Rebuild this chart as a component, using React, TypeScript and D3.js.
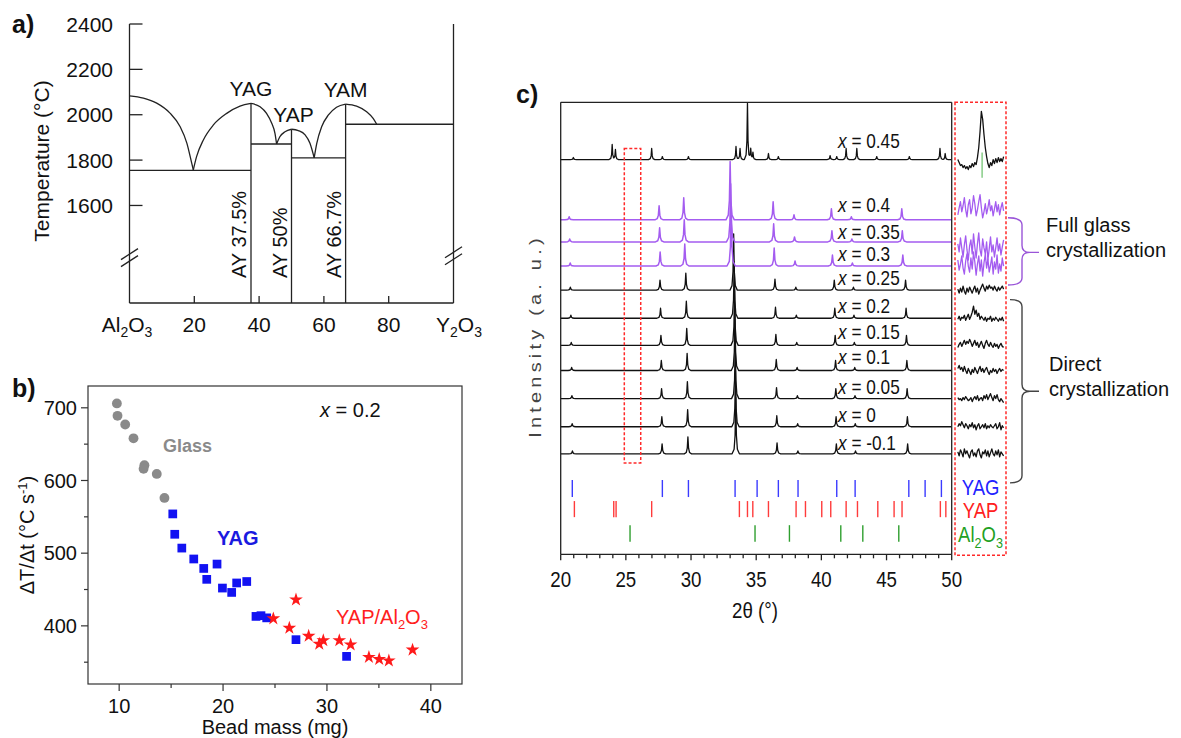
import React from 'react';
import * as d3 from 'd3';

const FONT = '"Liberation Sans", Arial, Helvetica, sans-serif';

// ---------------- Panel a: Al2O3 – Y2O3 phase diagram ----------------
const aTempTicks = [1600, 1800, 2000, 2200, 2400];
const aCompTicks = [20, 40, 60, 80];
const aLiqAl2O3 = [[0, 2083], [4.3, 2073], [8.4, 2051], [12.5, 2007], [15.6, 1948], [17.7, 1875], [19.2, 1787], [19.7, 1757]];
const aLiqYagLeft = [[19.7, 1757], [20.7, 1815], [22.8, 1889], [25.9, 1955], [30.0, 2006], [34.1, 2038], [37.5, 2050]];
const aLiqYagRight = [[37.5, 2050], [40.3, 2035], [42.3, 2006], [43.9, 1962], [44.9, 1918], [45.4, 1871]];
const aLiqYapLeft = [[45.4, 1871], [46.4, 1903], [48.0, 1925], [50, 1936]];
const aLiqYapRight = [[50, 1936], [52.1, 1930], [54.2, 1911], [55.7, 1874], [57.0, 1810]];
const aLiqYamLeft = [[57.0, 1810], [57.8, 1874], [59.3, 1947], [61.4, 1999], [63.9, 2033], [66.7, 2047]];
const aLiqYamRight = [[66.7, 2047], [70.1, 2038], [73.2, 2013], [75.2, 1984], [76.3, 1958]];
const aSolidusFrom = [0, 37.5, 50, 66.7];
const aSolidusTo = [37.5, 50, 66.7, 100];
const aSolidusT = [1755, 1871, 1810, 1958];
const aCompoundNames = ['YAG', 'YAP', 'YAM'];
const aCompoundComp = [37.5, 50, 66.7];
const aCompoundTm = [2050, 1936, 2047];
const aCompoundLabels = ['AY 37.5%', 'AY 50%', 'AY 66.7%'];

// ---------------- Panel b: cooling rate vs bead mass ----------------
const bXTicks = [10, 20, 30, 40];
const bXMinor = [15, 25, 35];
const bYTicks = [400, 500, 600, 700];
const bYMinor = [350, 450, 550, 650];
const glassMass = [9.78, 9.84, 10.58, 11.38, 12.43, 12.35, 13.62, 14.36];
const glassRate = [706, 689, 677, 658, 621, 616, 609, 576];
const yagMass = [15.16, 15.35, 16.03, 17.18, 18.14, 18.43, 19.42, 19.94, 20.83, 21.31, 22.28, 23.17, 23.65, 24.2, 27.02, 31.89];
const yagRate = [554, 526, 507, 492, 479, 464, 485, 452, 446, 459, 461, 413, 414, 411, 381, 358];
const yapMass = [24.84, 27.02, 26.38, 28.24, 29.26, 29.65, 31.19, 32.28, 34.04, 35.03, 35.96, 38.24];
const yapRate = [410, 436, 397, 386, 375, 380, 380, 374, 357, 354, 352, 367];

// ---------------- Panel c: XRD patterns ----------------
const cXTicks = [20, 25, 30, 35, 40, 45, 50];
const cXMinor = d3.range(21, 50).filter((v) => v % 5 !== 0);
const cCompositions = ['-0.1', '0', '0.05', '0.1', '0.15', '0.2', '0.25', '0.3', '0.35', '0.4', '0.45'];
const cOffsets = [100, 127, 155, 183, 208, 235, 263, 287, 311, 333, 393];
const cKind = ['direct', 'direct', 'direct', 'direct', 'direct', 'direct', 'direct', 'glass', 'glass', 'glass', 'mixed'];
const cShifts = [0, -0.02, -0.04, -0.06, -0.09, -0.12, -0.16, -0.22, -0.26, -0.3, 0];
const cLabelLift = [4, 5, 5, 6, 6, 5, 5, 5, 3, 8, 12];
// [2θ, intensity]
const directPeaks = [[20.9, 3], [27.78, 10], [29.76, 17], [33.43, 56], [36.6, 11], [38.2, 3], [41.15, 10], [42.62, 3], [46.62, 10]];
const glassPeaks = [[20.95, 3], [27.85, 14], [29.74, 22], [33.3, 58], [36.6, 18], [38.2, 5], [41.07, 11], [42.6, 3], [46.47, 11]];
const mixedPeaks = [[20.97, 2], [23.95, 15], [24.2, 10], [26.98, 11], [27.8, 3], [29.8, 3], [33.45, 13], [33.76, 11], [34.33, 56], [34.58, 11], [34.75, 7], [35.94, 6], [36.7, 3], [40.67, 4], [41.18, 3], [41.9, 11], [42.72, 11], [44.25, 3], [46.75, 3], [49.1, 11], [49.5, 6]];
const yagRefs = [20.89, 27.8, 29.8, 33.38, 35.07, 36.7, 38.21, 41.18, 42.59, 46.71, 47.96, 49.21];
const yapRefs = [21.05, 24.07, 24.25, 26.98, 33.71, 34.33, 34.74, 35.94, 38.06, 38.78, 40.03, 40.72, 41.9, 42.77, 44.33, 45.58, 46.19, 49.13, 49.55];
const al2o3Refs = [25.32, 34.91, 37.55, 41.49, 43.18, 45.94];
const refRowLow = [57, 37, 12.5];
const refRowHigh = [74, 53, 29];
const refColors = ['#3b3bff', '#ff3b3b', '#2f9f2f'];
const zoomWindow = [24.88, 26.14];
const zoomBoxLow = 91;
const zoomBoxHigh = 404;
const insetStart = 24.95;
const insetStep = 0.0323;
const insetAl2O3Peak = 25.55;
const insetNoise = [
  [2, -2, 4, 1, -3, 5, 0, 3, -1, -4, 2, 4, -2, 1, -3, 3, 5, -1, -4, 2, 0, 4, -2, 3, -3, 1, 5, 0, -2, 3, -1, 4, -3, 2, 0, -2],
  [0, 3, 1, 5, 2, -1, 3, 1, -2, 2, 0, 4, -1, 2, -3, 1, 3, -2, 0, 2, -1, 3, -2, 1, -1, 2, 0, -1, 1, 3, -2, 0, 4, -3, 1, -1],
  [1, -1, 0, -2, 1, -1, 2, 0, -2, -1, 1, -3, 0, 2, -1, 3, -2, 0, 1, -2, 3, 0, 4, -1, 2, 5, 1, -2, 3, 0, 4, -1, -3, 0, -2, -4],
  [2, 5, 1, 3, -1, 4, 0, -3, 2, -1, -4, 1, -2, 3, 0, -3, 1, 4, -1, 2, -2, 1, 3, -1, -4, 0, -2, 2, -1, 1, -3, 0, 2, -1, 1, 0],
  [-2, 1, 3, -1, 2, 5, 1, 4, 2, 6, 3, -1, 2, 5, 0, 3, -2, 1, 4, 0, -3, 2, 5, 1, -1, 3, 0, -2, 2, -1, 1, -3, 0, 2, -1, -2],
  [-1, 2, -2, 1, 0, 3, -2, 1, 4, -1, 2, 6, 12, 4, 8, 2, 5, -1, 2, 0, -2, 1, -3, 0, -1, 2, -3, 0, -2, 1, -1, -3, 0, -2, 1, -3],
  [1, -3, 2, -2, 4, -1, -4, 2, -2, 3, 0, -3, 1, 4, -2, 2, -4, 0, 3, 6, 2, -1, 4, 1, 5, 2, 3, 0, 4, 1, -1, 3, 0, 2, 4, 1],
  [6, -4, 2, 10, -2, -8, 5, 12, 0, -6, 8, -3, 14, 4, -9, 2, 10, -5, 6, -10, 3, 12, -2, 7, -6, 1, 9, -8, 4, -3, 11, -7, 2, -5, 8, 0],
  [-2, -10, 4, -6, -15, -3, 6, -8, -18, -4, 2, -12, 8, -5, -16, -2, 9, -8, -14, 3, -6, -12, 0, -18, -7, 5, -10, -3, -15, -6, 4, -9, -2, -13, -5, 2],
  [5, 12, 18, 8, 14, 22, 10, 3, 15, 20, 6, 12, 24, 16, 4, 10, 18, 25, 12, 2, 8, 16, 6, 12, 20, 9, 14, 4, 11, 18, 8, 15, 5, 12, 17, 9],
  [0, -3, -6, -5, -8, -6, -9, -7, -10, -6, -8, -4, -7, -3, -5, 2, 12, 28, 48, 40, 25, 12, 3, -4, -8, -3, -6, 0, -4, 1, -3, 2, -2, 1, -2, 3],
];

// ---------------- scales ----------------
const xA = d3.scaleLinear().domain([0, 100]).range([129.5, 453.5]);
const yA = d3.scaleLinear().domain([1170, 2400]).range([303, 24]);
const xB = d3.scaleLinear().domain([7, 43]).range([88, 462]);
const yB = d3.scaleLinear().domain([320, 730]).range([684, 386]);
const xC = d3.scaleLinear().domain([20, 50]).range([560.7, 951.7]);
const yC = d3.scaleLinear().domain([0, 450]).range([554.3, 102.3]);
const xI = d3.scaleLinear().domain(zoomWindow).range([955, 1006]);

const SHAPE_OFF = [-1, -0.45, -0.18, 0, 0.18, 0.45, 1];
const SHAPE_LVL = [0, 0.08, 0.33, 1, 0.33, 0.08, 0];
function peakShape(d: number, w: number) {
  const u = d / w;
  if (u <= -1 || u >= 1) return 0;
  for (let i = 0; i < SHAPE_OFF.length - 1; i++) {
    if (u >= SHAPE_OFF[i] && u <= SHAPE_OFF[i + 1]) {
      const t = (u - SHAPE_OFF[i]) / (SHAPE_OFF[i + 1] - SHAPE_OFF[i]);
      return SHAPE_LVL[i] + t * (SHAPE_LVL[i + 1] - SHAPE_LVL[i]);
    }
  }
  return 0;
}
function buildTrace(peaks: number[][], shift: number, w: number) {
  const xs: number[] = [20, 50];
  peaks.forEach(([p]) => SHAPE_OFF.forEach((o) => xs.push(p + shift + o * w)));
  const sorted = Array.from(new Set(xs)).filter((x) => x >= 20 && x <= 50).sort((a, b) => a - b);
  return sorted.map((x) => [x, d3.sum(peaks, ([p, h]) => h * peakShape(x - (p + shift), w))]);
}

const PURPLE = '#a45cf0';
const traceColor = (k: string) => (k === 'glass' ? PURPLE : '#111');

const CText = ({ x, y, sx = 0.82, anchor = 'start', size = 21, fill = '#111', children, weight = 'normal' }: any) => (
  <text transform={`translate(${x},${y}) scale(${sx},1)`} textAnchor={anchor} fontSize={size} fill={fill} fontFamily={FONT} fontWeight={weight}>
    {children}
  </text>
);

export default function App() {
  const lineA = d3.line<number[]>().x((d) => xA(d[0])).y((d) => yA(d[1])).curve(d3.curveMonotoneX);
  const liquidus = [aLiqAl2O3, aLiqYagLeft, aLiqYagRight, aLiqYapLeft, aLiqYapRight, aLiqYamLeft, aLiqYamRight];
  const stroke = '#222';

  const breakY = [yA(1370), yA(1378)];
  const breakAxes = [0, 100];

  const symCircle = d3.symbol().type(d3.symbolCircle).size(76)();
  const symSquare = d3.symbol().type(d3.symbolSquare).size(76)();
  const symStar = d3.symbol().type(d3.symbolStar).size(58)();

  const traces = cCompositions.map((c, i) => {
    const kind = cKind[i];
    const peaks = kind === 'direct' ? directPeaks : kind === 'glass' ? glassPeaks : mixedPeaks;
    const w = kind === 'glass' ? 0.32 : kind === 'mixed' ? 0.24 : 0.28;
    const pts = buildTrace(peaks, cShifts[i], w);
    const line = d3.line<number[]>().x((d) => xC(d[0])).y((d) => yC(cOffsets[i] + d[1]));
    return { c, i, kind, d: line(pts) as string };
  });

  const insetLines = insetNoise.map((arr, i) => {
    const line = d3.line<number>().x((_, j) => xI(insetStart + j * insetStep)).y((v) => yC(cOffsets[i] + v));
    return { i, kind: cKind[i], d: line(arr) as string };
  });

  const refs = [yagRefs, yapRefs, al2o3Refs];
  const insetX0 = xI.range()[0];
  const insetX1 = xI.range()[1];

  // brackets
  const braceX = 1022;
  const pTop = yC(cOffsets[9]) - 2;
  const pBot = yC(cOffsets[7]) + 19;
  const pMid = (pTop + pBot) / 2 + 1;
  const kTop = yC(cOffsets[6]) + 9.5;
  const kBot = yC(cOffsets[0]) + 29;
  const kMid = (kTop + kBot) / 2;
  const brace = (top: number, mid: number, bot: number, x0: number) =>
    `M${x0},${top} Q${braceX},${top} ${braceX},${top + 7} V${mid - 7} Q${braceX},${mid} ${braceX + 8},${mid} H${braceX + 17} M${braceX + 8},${mid} Q${braceX},${mid} ${braceX},${mid + 7} V${bot - 7} Q${braceX},${bot} ${x0},${bot}`;

  return (
    <svg width={1181} height={738} style={{ position: 'absolute', left: 0, top: 0, background: '#fff' }} fontFamily={FONT}>
      <rect x={0} y={0} width={1181} height={738} fill="#fff" />
      {/* ================= Panel a ================= */}
      <text x={12} y={33} fontSize={25} fontWeight="bold" fill="#111">a)</text>
      <g stroke={stroke} strokeWidth={1.3} fill="none">
        <line x1={xA(0)} x2={xA(0)} y1={yA(2400)} y2={yA(1170)} />
        <line x1={xA(100)} x2={xA(100)} y1={yA(2400)} y2={yA(1170)} />
        <line x1={xA(0)} x2={xA(100)} y1={yA(1170)} y2={yA(1170)} />
        {aTempTicks.map((t) => (
          <line key={t} x1={xA(0)} x2={xA(0) + 13} y1={yA(t)} y2={yA(t)} />
        ))}
        {aCompTicks.map((c) => (
          <line key={c} x1={xA(c)} x2={xA(c)} y1={yA(1170)} y2={yA(1170) - 7} />
        ))}
        {liquidus.map((pts, i) => (
          <path key={i} d={lineA(pts as number[][]) as string} />
        ))}
        {aSolidusT.map((t, i) => (
          <line key={i} x1={xA(aSolidusFrom[i])} x2={xA(aSolidusTo[i])} y1={yA(t)} y2={yA(t)} />
        ))}
        {aCompoundComp.map((c, i) => (
          <line key={i} x1={xA(c)} x2={xA(c)} y1={yA(aCompoundTm[i])} y2={yA(1170)} />
        ))}
        {breakAxes.map((c, k) => (
          <g key={k}>
            {[-3.5, 3.5].map((dy, j) => (
              <line key={j} x1={xA(c) - 8.5} x2={xA(c) + 8.5} y1={breakY[k] + dy + 5.5} y2={breakY[k] + dy - 5.5} />
            ))}
          </g>
        ))}
      </g>
      {aTempTicks.map((t) => (
        <text key={t} x={113} y={yA(t)} dy="0.36em" textAnchor="end" fontSize={21} fill="#111">{t}</text>
      ))}
      {aCompTicks.map((c) => (
        <text key={c} x={xA(c)} y={332} textAnchor="middle" fontSize={21} fill="#111">{c}</text>
      ))}
      <text x={127} y={332} textAnchor="middle" fontSize={21} fill="#111">
        Al<tspan fontSize={14} dy={5}>2</tspan><tspan dy={-5}>O</tspan><tspan fontSize={14} dy={5}>3</tspan>
      </text>
      <text x={459} y={332} textAnchor="middle" fontSize={21} fill="#111">
        Y<tspan fontSize={14} dy={5}>2</tspan><tspan dy={-5}>O</tspan><tspan fontSize={14} dy={5}>3</tspan>
      </text>
      <text transform="translate(49,161) rotate(-90)" textAnchor="middle" fontSize={21} fill="#111">Temperature (°C)</text>
      {aCompoundNames.map((n, i) => (
        <text key={n} x={xA(aCompoundComp[i]) + (i === 1 ? 2 : 0)} y={yA(aCompoundTm[i]) - 7} textAnchor="middle" fontSize={21} fill="#111">{n}</text>
      ))}
      {aCompoundLabels.map((l, i) => (
        <text key={l} transform={`translate(${xA(aCompoundComp[i]) - 5},278) rotate(-90)`} fontSize={20} fill="#111">{l}</text>
      ))}

      {/* ================= Panel b ================= */}
      <text x={12} y={397} fontSize={25} fontWeight="bold" fill="#111">b)</text>
      <g stroke="#333" strokeWidth={1.2} fill="none">
        <rect x={xB(7)} y={yB(730)} width={xB(43) - xB(7)} height={yB(320) - yB(730)} />
        {bXTicks.map((v) => <line key={v} x1={xB(v)} x2={xB(v)} y1={yB(320)} y2={yB(320) + 7} />)}
        {bXMinor.map((v) => <line key={v} x1={xB(v)} x2={xB(v)} y1={yB(320)} y2={yB(320) + 4} />)}
        {bYTicks.map((v) => <line key={v} x1={xB(7)} x2={xB(7) - 7} y1={yB(v)} y2={yB(v)} />)}
        {bYMinor.map((v) => <line key={v} x1={xB(7)} x2={xB(7) - 4} y1={yB(v)} y2={yB(v)} />)}
      </g>
      {bXTicks.map((v) => (
        <text key={v} x={xB(v)} y={713} textAnchor="middle" fontSize={20} fill="#111">{v}</text>
      ))}
      {bYTicks.map((v) => (
        <text key={v} x={77} y={yB(v)} dy="0.36em" textAnchor="end" fontSize={20} fill="#111">{v}</text>
      ))}
      <text x={xB(25)} y={734} textAnchor="middle" fontSize={20} fill="#111">Bead mass (mg)</text>
      <text transform="translate(34,535) rotate(-90)" textAnchor="middle" fontSize={20} fill="#111">
        ΔT/Δt (°C s<tspan fontSize={13} dy={-7}>-1</tspan><tspan dy={7}>)</tspan>
      </text>
      <text x={320} y={417} fontSize={20} fill="#111"><tspan fontStyle="italic">x</tspan> = 0.2</text>
      <text x={163} y={452} fontSize={18} fontWeight="bold" fill="#8a8a8a">Glass</text>
      <text x={217} y={545} fontSize={20} fontWeight="bold" fill="#1a1ae0">YAG</text>
      <text x={336} y={624} fontSize={20} fill="#ff2020">
        YAP/Al<tspan fontSize={13} dy={5}>2</tspan><tspan dy={-5}>O</tspan><tspan fontSize={13} dy={5}>3</tspan>
      </text>
      {glassMass.map((m, i) => (
        <path key={'g' + i} d={symCircle as string} transform={`translate(${xB(m)},${yB(glassRate[i])})`} fill="#8a8a8a" />
      ))}
      {yagMass.map((m, i) => (
        <path key={'y' + i} d={symSquare as string} transform={`translate(${xB(m)},${yB(yagRate[i])})`} fill="#1212f2" />
      ))}
      {yapMass.map((m, i) => (
        <path key={'p' + i} d={symStar as string} transform={`translate(${xB(m)},${yB(yapRate[i])})`} fill="#ff1a1a" />
      ))}

      {/* ================= Panel c ================= */}
      <text x={516} y={103} fontSize={25} fontWeight="bold" fill="#111">c)</text>
      <defs>
        <clipPath id="insetClip">
          <rect x={insetX0 + 1} y={yC(450)} width={insetX1 - insetX0 - 2} height={yC(0) - yC(450)} />
        </clipPath>
      </defs>
      {traces.map((t) => (
        <path key={t.c} d={t.d} fill="none" stroke={traceColor(t.kind)} strokeWidth={t.kind === 'glass' ? 1.5 : 1.3} strokeLinejoin="round" />
      ))}
      {refs.map((arr, r) => (
        <g key={r} stroke={refColors[r]} strokeWidth={1.4}>
          {arr.map((v, j) => (
            <line key={j} x1={xC(v)} x2={xC(v)} y1={yC(refRowLow[r])} y2={yC(refRowHigh[r])} />
          ))}
        </g>
      ))}
      <g clipPath="url(#insetClip)">
        {insetLines.map((l) => (
          <path key={l.i} d={l.d} fill="none" stroke={traceColor(l.kind)} strokeWidth={1.3} strokeLinejoin="round" />
        ))}
      </g>
      <line x1={xI(insetAl2O3Peak)} x2={xI(insetAl2O3Peak)} y1={yC(375)} y2={yC(400)} stroke="#8fd08f" strokeWidth={1.6} />
      <g stroke="#222" strokeWidth={1.3} fill="none">
        <line x1={xC(20)} x2={xC(20)} y1={yC(450)} y2={yC(0)} />
        <line x1={xC(50)} x2={xC(50)} y1={yC(450)} y2={yC(0)} />
        <line x1={xC(20)} x2={xC(50)} y1={yC(450)} y2={yC(450)} />
        <line x1={xC(20)} x2={xC(50)} y1={yC(0)} y2={yC(0)} />
        {cXTicks.map((v) => <line key={v} x1={xC(v)} x2={xC(v)} y1={yC(0)} y2={yC(0) + 6} />)}
        {cXMinor.map((v) => <line key={v} x1={xC(v)} x2={xC(v)} y1={yC(0)} y2={yC(0) + 4} />)}
      </g>
      <g stroke="#ff2a2a" strokeWidth={1.5} strokeDasharray="3,2" fill="none">
        <rect x={xC(zoomWindow[0])} y={yC(zoomBoxHigh)} width={xC(zoomWindow[1]) - xC(zoomWindow[0])} height={yC(zoomBoxLow) - yC(zoomBoxHigh)} />
        <rect x={insetX0} y={yC(450)} width={insetX1 - insetX0} height={yC(0) - yC(450) + 1} />
      </g>
      {cXTicks.map((v) => (
        <CText key={v} x={xC(v)} y={587} anchor="middle" size={22} sx={0.85}>{v}</CText>
      ))}
      <CText x={755} y={618} anchor="middle" size={22} sx={0.85}>2θ (°)</CText>
      <text transform="translate(541,336) rotate(-90) scale(1,0.82)" textAnchor="middle" fontSize={20} letterSpacing={4.2} fill="#444">Intensity (a. u.)</text>
      {traces.map((t) => (
        <CText key={t.c} x={838} y={yC(cOffsets[t.i]) - cLabelLift[t.i]} size={21} sx={0.82}>
          <tspan fontStyle="italic">x</tspan> = {t.c}
        </CText>
      ))}
      <CText x={xI(25.51)} y={495} anchor="middle" size={22} sx={0.84} fill="#2222ff">YAG</CText>
      <CText x={xI(25.51)} y={518} anchor="middle" size={22} sx={0.84} fill="#ff2020">YAP</CText>
      <CText x={xI(25.51)} y={542} anchor="middle" size={22} sx={0.84} fill="#22a022">
        Al<tspan fontSize={15} dy={6}>2</tspan><tspan dy={-6}>O</tspan><tspan fontSize={15} dy={6}>3</tspan>
      </CText>
      <path d={brace(pTop, pMid, pBot, 1008)} fill="none" stroke="#9a55d8" strokeWidth={1.4} />
      <path d={brace(kTop, kMid, kBot, 1010)} fill="none" stroke="#444" strokeWidth={1.4} />
      <text x={1046} y={232} fontSize={20} fill="#111">Full glass</text>
      <text x={1046} y={257} fontSize={20} fill="#111">crystallization</text>
      <text x={1049} y={371} fontSize={20} fill="#111">Direct</text>
      <text x={1049} y={396} fontSize={20} fill="#111">crystallization</text>
    </svg>
  );
}
